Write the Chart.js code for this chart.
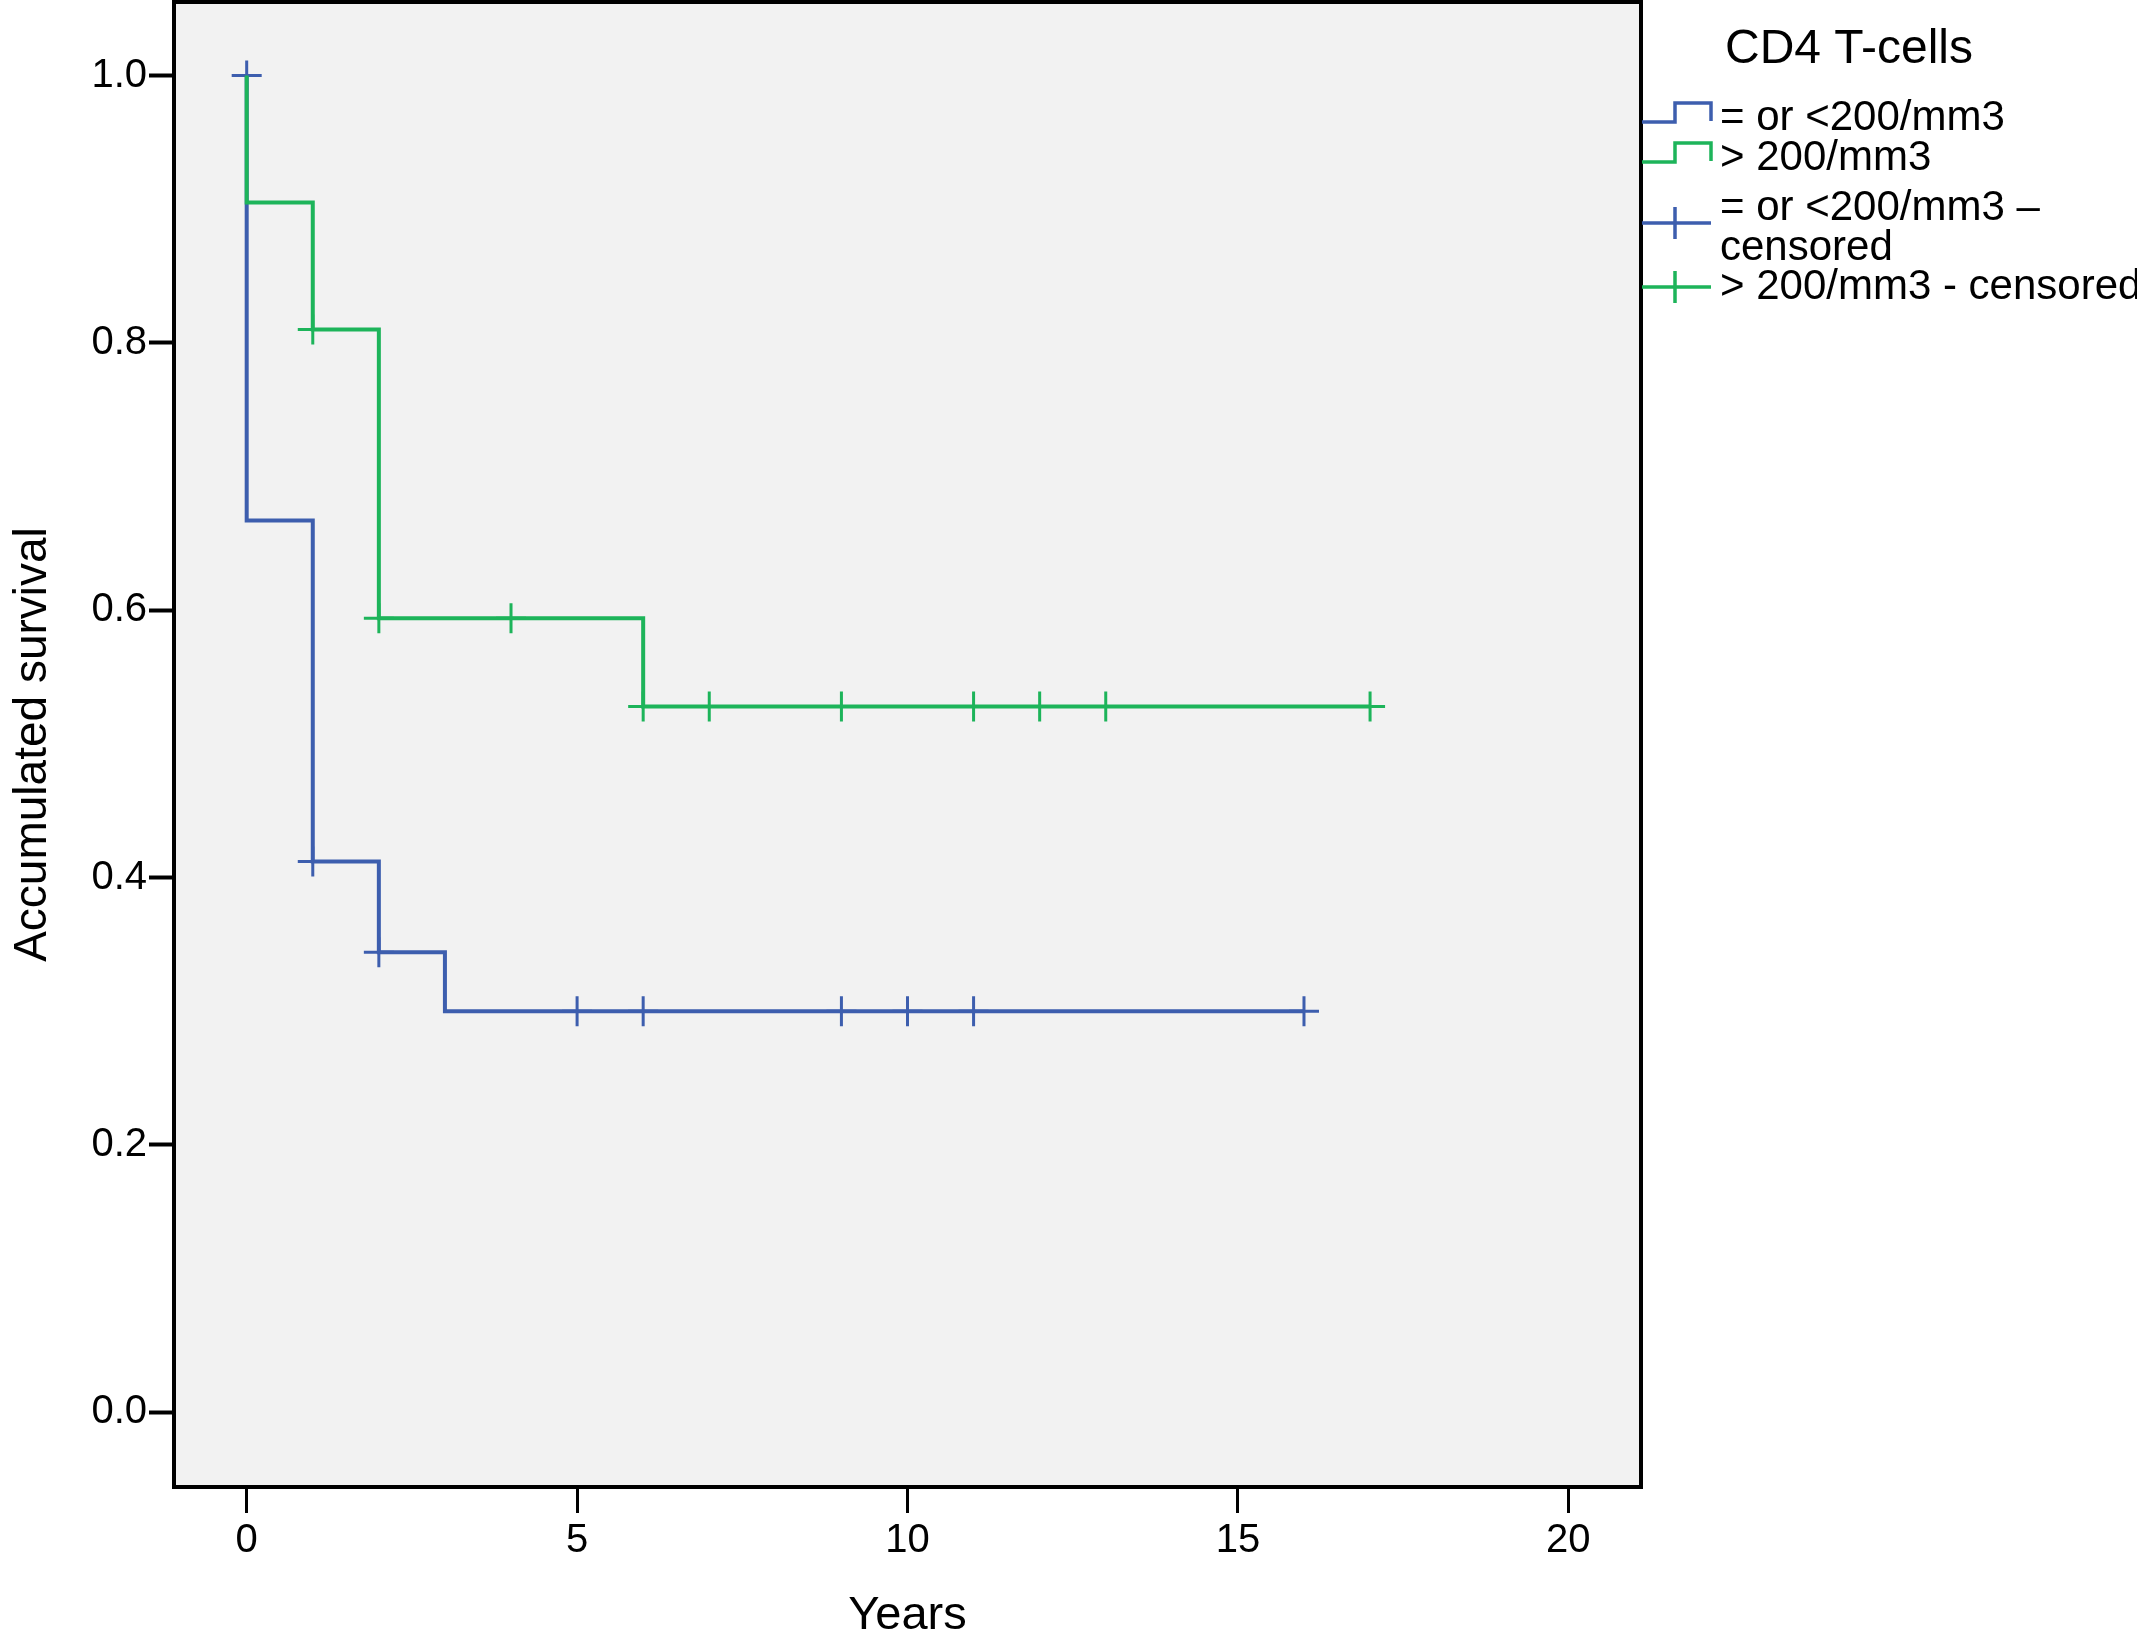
<!DOCTYPE html>
<html>
<head>
<meta charset="utf-8">
<script src="https://cdn.jsdelivr.net/npm/chart.js@4.4.1/dist/chart.umd.min.js"></script>
<style>
  body { margin: 0; background: #fff; }
  #wrap { width: 2137px; height: 1644px; }
</style>
</head>
<body>
<div id="wrap"><canvas id="myChart"></canvas></div>
<script>
'use strict';
// Kaplan-Meier steps
let lowTimes = [0, 0, 1, 2, 3, 16];
let lowSurv = [1.0, 0.667, 0.412, 0.344, 0.300, 0.300];
let lowCensTimes = [0, 1, 2, 5, 6, 9, 10, 11, 16];
let lowCensSurv = [1.0, 0.412, 0.344, 0.300, 0.300, 0.300, 0.300, 0.300, 0.300];

let highTimes = [0, 0, 1, 2, 6, 17];
let highSurv = [1.0, 0.905, 0.810, 0.594, 0.528, 0.528];
let highCensTimes = [1, 2, 4, 6, 7, 9, 11, 12, 13, 17];
let highCensSurv = [0.810, 0.594, 0.594, 0.528, 0.528, 0.528, 0.528, 0.528, 0.528, 0.528];

let xTicks = [0, 5, 10, 15, 20];
let yTicks = [0, 0.2, 0.4, 0.6, 0.8, 1.0];

let legendTitle = 'CD4 T-cells';
let legendLabels = [['= or <200/mm3'], ['> 200/mm3'], ['= or <200/mm3 \u2013', 'censored'], ['> 200/mm3 - censored']];

let blue = '#3d5eae';
let green = '#1db45a';
let font = 'Liberation Sans, Arial, sans-serif';

function pts(xs, ys) {
    let out = [];
    for (let i = 0; i < xs.length; i++) {
        out.push({ x: xs[i], y: ys[i] });
    }
    return out;
}

// grey plot background + black frame
let framePlugin = {
    id: 'frame',
    beforeDraw(chart) {
        let a = chart.chartArea;
        let ctx = chart.ctx;
        ctx.save();
        ctx.fillStyle = '#f2f2f2';
        ctx.fillRect(a.left, a.top, a.right - a.left, a.bottom - a.top);
        ctx.restore();
    },
    afterDraw(chart) {
        let a = chart.chartArea;
        let ctx = chart.ctx;
        ctx.save();
        ctx.strokeStyle = '#000';
        ctx.lineWidth = 4;
        ctx.strokeRect(a.left, a.top, a.right - a.left, a.bottom - a.top);
        ctx.restore();
    }
};

// SPSS style legend to the right of the plot
let legendPlugin = {
    id: 'spssLegend',
    afterDraw(chart) {
        let ctx = chart.ctx;
        let x0 = chart.chartArea.right + 1;
        ctx.save();
        ctx.fillStyle = '#000';
        ctx.textBaseline = 'middle';
        ctx.font = '48px ' + font;
        ctx.textAlign = 'center';
        ctx.fillText(legendTitle, 1849, 50);

        ctx.font = '42px ' + font;
        ctx.textAlign = 'left';
        let rows = [118, 158, 208, 287];
        let cols = [blue, green, blue, green];
        ctx.lineWidth = 3.5;
        for (let i = 0; i < legendLabels.length; i++) {
            let y = rows[i];
            ctx.strokeStyle = cols[i];
            ctx.beginPath();
            if (i < 2) {
                ctx.moveTo(x0, y + 4);
                ctx.lineTo(x0 + 33, y + 4);
                ctx.lineTo(x0 + 33, y - 15);
                ctx.lineTo(x0 + 69, y - 15);
                ctx.lineTo(x0 + 69, y + 3);
            } else {
                let cy = i === 2 ? y + 15 : y;
                ctx.moveTo(x0, cy);
                ctx.lineTo(x0 + 69, cy);
                ctx.moveTo(x0 + 33, cy - 16);
                ctx.lineTo(x0 + 33, cy + 16);
            }
            ctx.stroke();
            for (let j = 0; j < legendLabels[i].length; j++) {
                ctx.fillText(legendLabels[i][j], 1720, y + j * 40);
            }
        }
        ctx.restore();
    }
};

let ctx = document.getElementById('myChart').getContext('2d');
let myChart = new Chart(ctx, {
    type: 'line',
    data: {
        datasets: [{
            label: '> 200/mm3',
            data: pts(highTimes, highSurv),
            borderColor: green,
            borderWidth: 4,
            stepped: 'before',
            pointRadius: 0,
            fill: false
        }, {
            label: '> 200/mm3 - censored',
            data: pts(highCensTimes, highCensSurv),
            showLine: false,
            pointStyle: 'cross',
            pointRadius: 15,
            pointBorderWidth: 3,
            borderColor: green
        }, {
            label: '= or <200/mm3',
            data: pts(lowTimes, lowSurv),
            borderColor: blue,
            borderWidth: 4,
            stepped: 'before',
            pointRadius: 0,
            fill: false
        }, {
            label: '= or <200/mm3 - censored',
            data: pts(lowCensTimes, lowCensSurv),
            showLine: false,
            pointStyle: 'cross',
            pointRadius: 15,
            pointBorderWidth: 3,
            borderColor: blue
        }]
    },
    options: {
        responsive: true,
        maintainAspectRatio: false,
        devicePixelRatio: 1,
        animation: false,
        layout: { autoPadding: false, padding: { top: 2, right: 496, bottom: 0, left: 0 } },
        plugins: {
            legend: { display: false },
            tooltip: { enabled: false }
        },
        scales: {
            x: {
                type: 'linear',
                min: -1.1,
                max: 21.1,
                afterBuildTicks: function (scale) {
                    scale.ticks = xTicks.map(v => ({ value: v }));
                },
                afterFit: function (scale) {
                    scale.height = 157;
                    scale.paddingLeft = 0;
                    scale.paddingRight = 0;
                },
                grid: {
                    drawOnChartArea: false,
                    drawTicks: true,
                    tickLength: 26,
                    tickWidth: 3,
                    tickColor: '#000'
                },
                border: { display: false },
                ticks: {
                    color: '#000',
                    padding: 4,
                    maxRotation: 0,
                    font: { family: font, size: 40 }
                },
                title: {
                    display: true,
                    text: 'Years',
                    color: '#000',
                    padding: 0,
                    font: { family: font, size: 47 }
                }
            },
            y: {
                type: 'linear',
                min: -0.056,
                max: 1.055,
                afterBuildTicks: function (scale) {
                    scale.ticks = yTicks.map(v => ({ value: v }));
                },
                afterFit: function (scale) {
                    scale.width = 174;
                    scale.paddingTop = 0;
                    scale.paddingBottom = 0;
                },
                grid: {
                    drawOnChartArea: false,
                    drawTicks: true,
                    tickLength: 25,
                    tickWidth: 4,
                    tickColor: '#000'
                },
                border: { display: false },
                ticks: {
                    color: '#000',
                    padding: 2,
                    font: { family: font, size: 40 },
                    callback: function (v) { return Number(v).toFixed(1); }
                },
                title: {
                    display: true,
                    text: 'Accumulated survival',
                    color: '#000',
                    padding: { top: 6, bottom: 0 },
                    font: { family: font, size: 46 }
                }
            }
        }
    },
    plugins: [framePlugin, legendPlugin]
});
</script>
</body>
</html>
